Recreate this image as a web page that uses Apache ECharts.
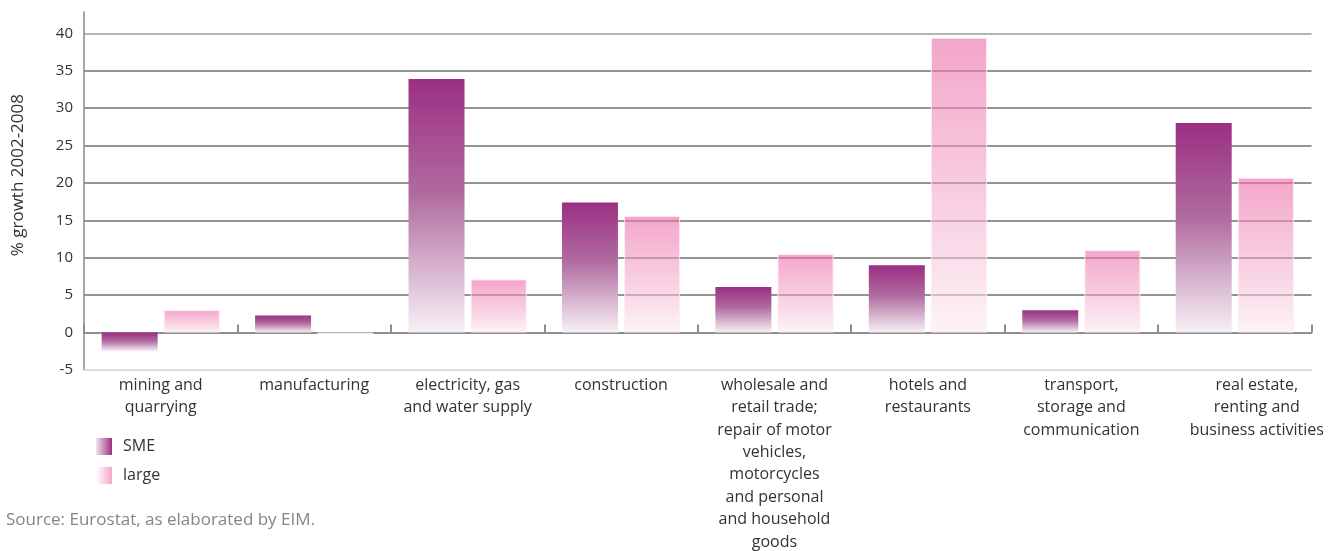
<!DOCTYPE html>
<html>
<head>
<meta charset="utf-8">
<script src="https://cdn.jsdelivr.net/npm/echarts@6/dist/echarts.min.js"></script>
<style>
  html, body { margin: 0; padding: 0; background: #fff; }
  #chart { width: 1331px; height: 551px; }
</style>
</head>
<body>
<div id="chart"></div>
<script>
// Sectors (tick labels, wrapped as printed)
const categories = [
  'mining and\nquarrying',
  'manufacturing',
  'electricity, gas\nand water supply',
  'construction',
  'wholesale and\nretail trade;\nrepair of motor\nvehicles,\nmotorcycles\nand personal\nand household\ngoods',
  'hotels and\nrestaurants',
  'transport,\nstorage and\ncommunication',
  'real estate,\nrenting and\nbusiness activities'
];

// % growth 2002-2008
const smeValues   = [-2.5, 2.3, 33.9, 17.4, 6.1, 9.0, 3.0, 28.0];
const largeValues = [3.0, -0.2, 7.1, 15.6, 10.5, 39.4, 11.0, 20.7];

const yTicks = [-5, 0, 5, 10, 15, 20, 25, 30, 35, 40];

const FONT = '"Open Sans", "Noto Sans", sans-serif';

function vGrad(stops) {
  return new echarts.graphic.LinearGradient(0, 0, 0, 1,
    stops.map(s => ({ offset: s[0], color: s[1] })));
}
function hGrad(stops) {
  return new echarts.graphic.LinearGradient(0, 0, 1, 0,
    stops.map(s => ({ offset: s[0], color: s[1] })));
}

const smeFill = vGrad([[0, '#9b2f83'], [0.45, '#b06b9f'], [1, '#f7f1f6']]);
const largeFill = vGrad([[0, 'rgba(236,110,168,0.62)'], [0.5, 'rgba(242,160,196,0.55)'], [1, 'rgba(252,236,243,0.6)']]);

// split line colours follow the tick order: -5, 0, 5 ... 35, 40, top edge
const splitColors = yTicks.map(v => v === -5 ? 'rgba(0,0,0,0)' : (v === 40 ? '#9c9c9c' : '#707070'));
splitColors.push('rgba(0,0,0,0)');

const labelBase = { fontFamily: FONT, fontSize: 16, lineHeight: 22.4, color: '#333' };

const chart = echarts.init(document.getElementById('chart'));
chart.setOption({
  animation: false,
  backgroundColor: '#fff',
  textStyle: { fontFamily: FONT },
  grid: { left: 84, right: 19.5, top: 12, bottom: 181, containLabel: false, outerBoundsMode: 'none' },
  legend: {
    orient: 'vertical',
    left: 96, top: 438,
    padding: 0,
    itemWidth: 16, itemHeight: 17, itemGap: 12,
    textStyle: { fontFamily: FONT, fontSize: 16, color: '#333', padding: [0, 0, 0, 6] },
    data: [
      { name: 'SME', icon: 'rect', itemStyle: { color: hGrad([[0, '#f0e4ee'], [1, '#9b2f83']]), borderWidth: 0 } },
      { name: 'large', icon: 'rect', itemStyle: { color: hGrad([[0, '#ffffff'], [1, '#f5a6ca']]), borderWidth: 0 } }
    ]
  },
  xAxis: [
    {
      type: 'category',
      data: categories,
      position: 'bottom',
      axisLine: { onZero: false, lineStyle: { color: '#cfcfcf', width: 1.5 } },
      axisTick: { show: false },
      axisLabel: Object.assign({
        interval: 0, margin: 4,
        formatter: (val, idx) => idx === categories.length - 1
          ? val.split('\n').map(l => '{r|' + l + '}').join('\n')
          : val,
        rich: { r: Object.assign({ padding: [0, 0, 0, 44] }, labelBase) }
      }, labelBase),
      splitLine: { show: false }
    },
    {
      type: 'category',
      data: categories,
      position: 'top',
      axisLine: { onZero: true, lineStyle: { color: '#8e8e8e', width: 2 } },
      axisTick: { show: true, alignWithLabel: false, length: 8, lineStyle: { color: '#8e8e8e', width: 2 } },
      axisLabel: { show: false },
      splitLine: { show: false }
    }
  ],
  yAxis: {
    type: 'value',
    min: -5, max: 42.85, interval: 5,
    axisLine: { show: true, lineStyle: { color: '#8a8a8a', width: 1.5 } },
    axisTick: { show: false },
    axisLabel: {
      margin: 11, fontFamily: FONT, fontSize: 15, color: '#333',
      showMaxLabel: false,
      formatter: v => (yTicks.indexOf(v) >= 0 ? String(v) : '')
    },
    splitLine: { show: true, lineStyle: { color: splitColors, width: 1.5 } }
  },
  series: [
    {
      name: 'SME', type: 'bar', xAxisIndex: 0,
      data: smeValues,
      barWidth: 56, barGap: '11%',
      itemStyle: { color: smeFill }
    },
    {
      name: 'large', type: 'bar', xAxisIndex: 0,
      data: largeValues,
      barWidth: 56, barGap: '11%',
      itemStyle: { color: largeFill, borderColor: 'rgba(255,235,244,0.9)', borderWidth: 1 }
    }
  ],
  graphic: [
    {
      type: 'text', left: 10, top: 94,
      rotation: Math.PI / 2,
      originX: 0, originY: 0,
      style: { text: '% growth 2002-2008', fontFamily: FONT, fontSize: 17, fill: '#333' }
    },
    {
      type: 'text', left: 6, top: 512,
      style: { text: 'Source: Eurostat, as elaborated by EIM.', fontFamily: FONT, fontSize: 17, fill: '#858585' }
    }
  ]
});
</script>
</body>
</html>
